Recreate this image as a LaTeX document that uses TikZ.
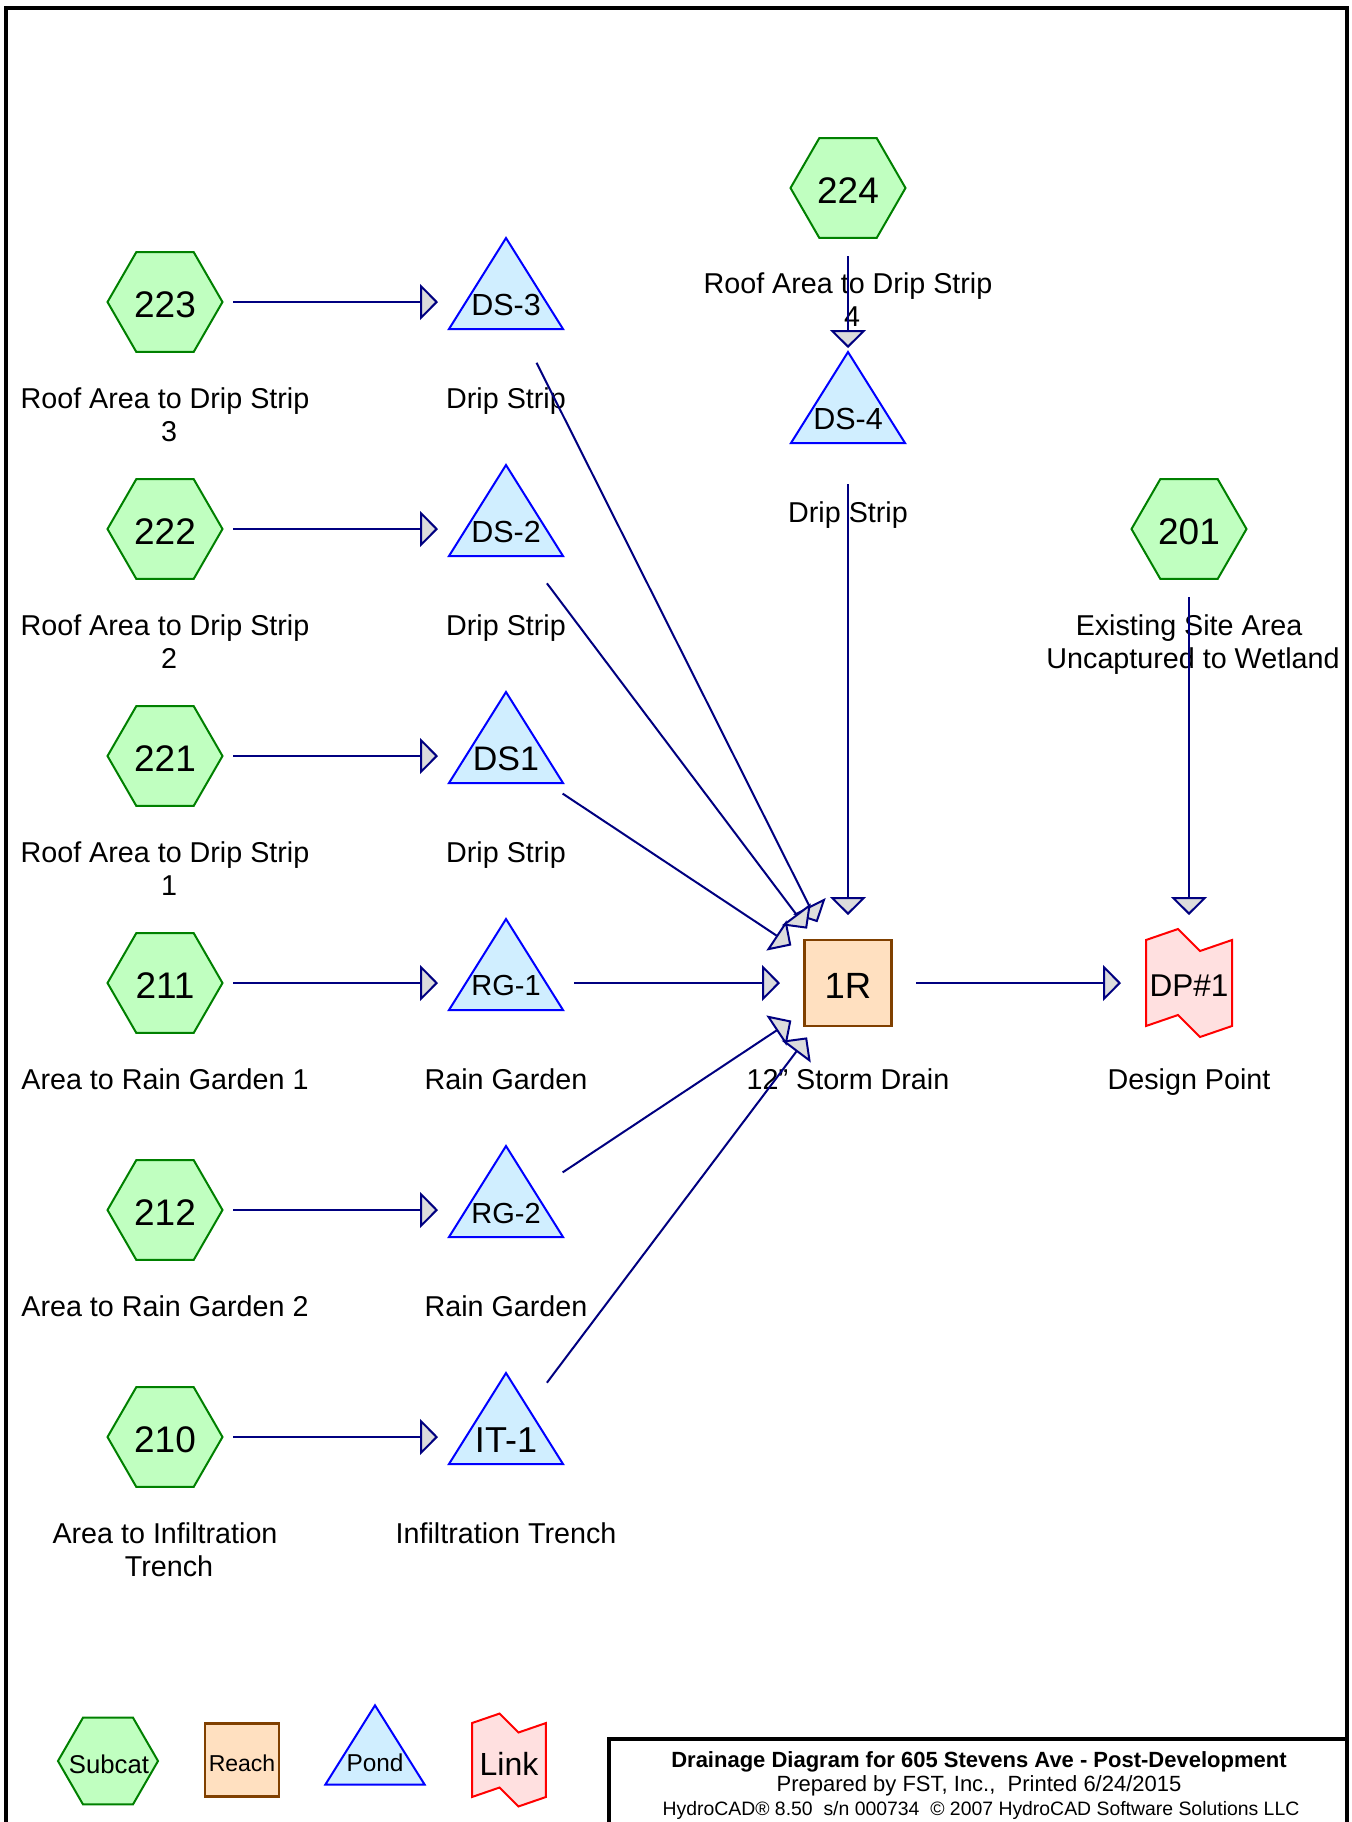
\documentclass[tikz,border=0pt]{standalone}
\usepackage{fontspec}
\setmainfont{Liberation Sans}
\usetikzlibrary{arrows.meta}
\definecolor{subfill}{HTML}{C0FFC0}
\definecolor{subline}{HTML}{008000}
\definecolor{pondfill}{HTML}{D0EEFF}
\definecolor{pondline}{HTML}{0000FF}
\definecolor{reachfill}{HTML}{FFE0C0}
\definecolor{reachline}{HTML}{804000}
\definecolor{linkfill}{HTML}{FFE0E0}
\definecolor{linkline}{HTML}{FF0000}
\definecolor{flow}{HTML}{000080}
\definecolor{tipfill}{HTML}{DCDCDC}
\tikzset{
  hexpic/.pic={\draw[draw=subline,fill=subfill,line width=1pt]
    (-57.5,0) -- (-28.75,-49.8) -- (28.75,-49.8) -- (57.5,0) -- (28.75,49.8) -- (-28.75,49.8) -- cycle;},
  pondpic/.pic={\draw[draw=pondline,fill=pondfill,line width=1pt]
    (0,-64) -- (57,27) -- (-57,27) -- cycle;},
  reachpic/.pic={\draw[draw=reachline,fill=reachfill,line width=1.1pt]
    (-43.5,-43) rectangle (43.5,43);},
  linkpic/.pic={\draw[draw=linkline,fill=linkfill,line width=1pt]
    (-43,-43) -- (-11,-54) -- (11,-32) -- (43,-43) -- (43,43) -- (11,54) -- (-11,32) -- (-43,43) -- cycle;},
  fs/.style={font={\fontsize{#1}{#1}\selectfont}},
  shapetext/.style={inner sep=0pt, outer sep=0pt, anchor=center},
  lbl/.style={anchor=base, inner sep=0pt, font={\fontsize{14.35}{16.5}\selectfont}},
  flowline/.style={draw=flow, line width=1pt, shorten <=34pt, shorten >=34pt,
    -{Triangle[length=9pt,width=18pt,fill=tipfill]}},
  frameline/.style={draw=black, line width=1.6pt},
}
\begin{document}
\begin{tikzpicture}[x=0.5pt,y=-0.5pt]
\useasboundingbox[fill=white] (0,0) rectangle (1351,1822);
\clip (0,0) rectangle (1351,1822);

% outer frame and title box
\draw[frameline] (6,1850) -- (6,8) -- (1347,8) -- (1347,1850);
\draw[frameline] (609,1850) -- (609,1739) -- (1347,1739);

% subcatchments
\pic at (165,302) {hexpic};
\pic at (165,529) {hexpic};
\pic at (165,756) {hexpic};
\pic at (165,983) {hexpic};
\pic at (165,1210) {hexpic};
\pic at (165,1437) {hexpic};
\pic at (848,188) {hexpic};
\pic at (1189,529) {hexpic};
\node[shapetext,fs=18.5] (s223) at (165,305) {223};
\node[shapetext,fs=18.5] (s222) at (165,532) {222};
\node[shapetext,fs=18.5] (s221) at (165,759) {221};
\node[shapetext,fs=18.5] (s211) at (165,986) {211};
\node[shapetext,fs=18.5] (s212) at (165,1213) {212};
\node[shapetext,fs=18.5] (s210) at (165,1440) {210};
\node[shapetext,fs=18.5] (s224) at (848,191) {224};
\node[shapetext,fs=18.5] (s201) at (1189,532) {201};

% ponds
\pic at (506,302) {pondpic};
\pic at (506,529) {pondpic};
\pic at (506,756) {pondpic};
\pic at (506,983) {pondpic};
\pic at (506,1210) {pondpic};
\pic at (506,1437) {pondpic};
\pic at (848,416) {pondpic};
\node[shapetext,fs=15.25] (ds3) at (506,305) {DS-3};
\node[shapetext,fs=15.25] (ds2) at (506,532) {DS-2};
\node[shapetext,fs=17] (ds1) at (506,759) {DS1};
\node[shapetext,fs=14.5] (rg1) at (506,986) {RG-1};
\node[shapetext,fs=14.5] (rg2) at (506,1213) {RG-2};
\node[shapetext,fs=18] (it1) at (506,1440) {IT-1};
\node[shapetext,fs=15.25] (ds4) at (848,419) {DS-4};

% reach and link
\pic at (848,983) {reachpic};
\node[shapetext,fs=18.25] (r1) at (848,986) {1R};
\pic at (1189,983) {linkpic};
\node[shapetext,fs=15.75] (dp1) at (1189,986) {DP\#1};

% labels
\node[lbl] (l223a) at (165,408) {Roof Area to Drip Strip};
\node[lbl] (l223b) at (169,441) {3};
\node[lbl] (l222a) at (165,635) {Roof Area to Drip Strip};
\node[lbl] (l222b) at (169,668) {2};
\node[lbl] (l221a) at (165,862) {Roof Area to Drip Strip};
\node[lbl] (l221b) at (169,895) {1};
\node[lbl] (l211) at (165,1089) {Area to Rain Garden 1};
\node[lbl] (l212) at (165,1316) {Area to Rain Garden 2};
\node[lbl] (l210a) at (165,1543) {Area to Infiltration};
\node[lbl] (l210b) at (169,1576) {Trench};
\node[lbl] (l224a) at (848,293) {Roof Area to Drip Strip};
\node[lbl] (l224b) at (852,326) {4};
\node[lbl] (l201a) at (1189,635) {Existing Site Area};
\node[lbl] (l201b) at (1193,668) {Uncaptured to Wetland};
\node[lbl] (lds3) at (506,408) {Drip Strip};
\node[lbl] (lds2) at (506,635) {Drip Strip};
\node[lbl] (lds1) at (506,862) {Drip Strip};
\node[lbl] (lrg1) at (506,1089) {Rain Garden};
\node[lbl] (lrg2) at (506,1316) {Rain Garden};
\node[lbl] (lit1) at (506,1543) {Infiltration Trench};
\node[lbl] (lds4) at (848,522) {Drip Strip};
\node[lbl] (lr1) at (848,1089) {12\symbol{34} Storm Drain};
\node[lbl] (ldp1) at (1189,1089) {Design Point};

% connectors (from shape centre to shape centre)
\coordinate (c223) at (165,302);
\coordinate (c222) at (165,529);
\coordinate (c221) at (165,756);
\coordinate (c211) at (165,983);
\coordinate (c212) at (165,1210);
\coordinate (c210) at (165,1437);
\coordinate (c224) at (848,188);
\coordinate (c201) at (1189,529);
\coordinate (cds3) at (506,302);
\coordinate (cds2) at (506,529);
\coordinate (cds1) at (506,756);
\coordinate (crg1) at (506,983);
\coordinate (crg2) at (506,1210);
\coordinate (cit1) at (506,1437);
\coordinate (cds4) at (848,416);
\coordinate (cr1) at (848,983);
\coordinate (cdp1) at (1189,983);
\draw[flowline] (c223) -- (cds3);
\draw[flowline] (c222) -- (cds2);
\draw[flowline] (c221) -- (cds1);
\draw[flowline] (c211) -- (crg1);
\draw[flowline] (c212) -- (crg2);
\draw[flowline] (c210) -- (cit1);
\draw[flowline] (c224) -- (cds4);
\draw[flowline] (cds3) -- (cr1);
\draw[flowline] (cds2) -- (cr1);
\draw[flowline] (cds1) -- (cr1);
\draw[flowline] (crg1) -- (cr1);
\draw[flowline] (crg2) -- (cr1);
\draw[flowline] (cit1) -- (cr1);
\draw[flowline] (cds4) -- (cr1);
\draw[flowline] (cr1) -- (cdp1);
\draw[flowline] (c201) -- (cdp1);

% legend
\pic[scale=0.87] at (108,1761) {hexpic};
\node[shapetext,fs=12.85] (legsub) at (109,1764) {Subcat};
\pic[scale=0.85] at (242,1760) {reachpic};
\node[shapetext,fs=11.5] (legreach) at (242,1763) {Reach};
\pic[scale=0.87] at (375,1761) {pondpic};
\node[shapetext,fs=12.2] (legpond) at (375,1763) {Pond};
\pic[scale=0.86] at (509,1760) {linkpic};
\node[shapetext,fs=16] (leglink) at (509,1764) {Link};

% title block
\node[anchor=base,inner sep=0pt,font={\fontsize{11}{12}\selectfont\bfseries}] (t1) at (979,1767) {Drainage Diagram for 605 Stevens Ave - Post-Development};
\node[anchor=base,inner sep=0pt,font={\fontsize{11}{12}\selectfont}] (t2) at (979,1791) {Prepared by FST, Inc.,\ \ Printed 6/24/2015};
\node[anchor=base,inner sep=0pt,font={\fontsize{9.7}{11}\selectfont}] (t3) at (981,1815) {HydroCAD® 8.50\ \ s/n 000734\ \ © 2007 HydroCAD Software Solutions LLC};
\end{tikzpicture}
\end{document}
